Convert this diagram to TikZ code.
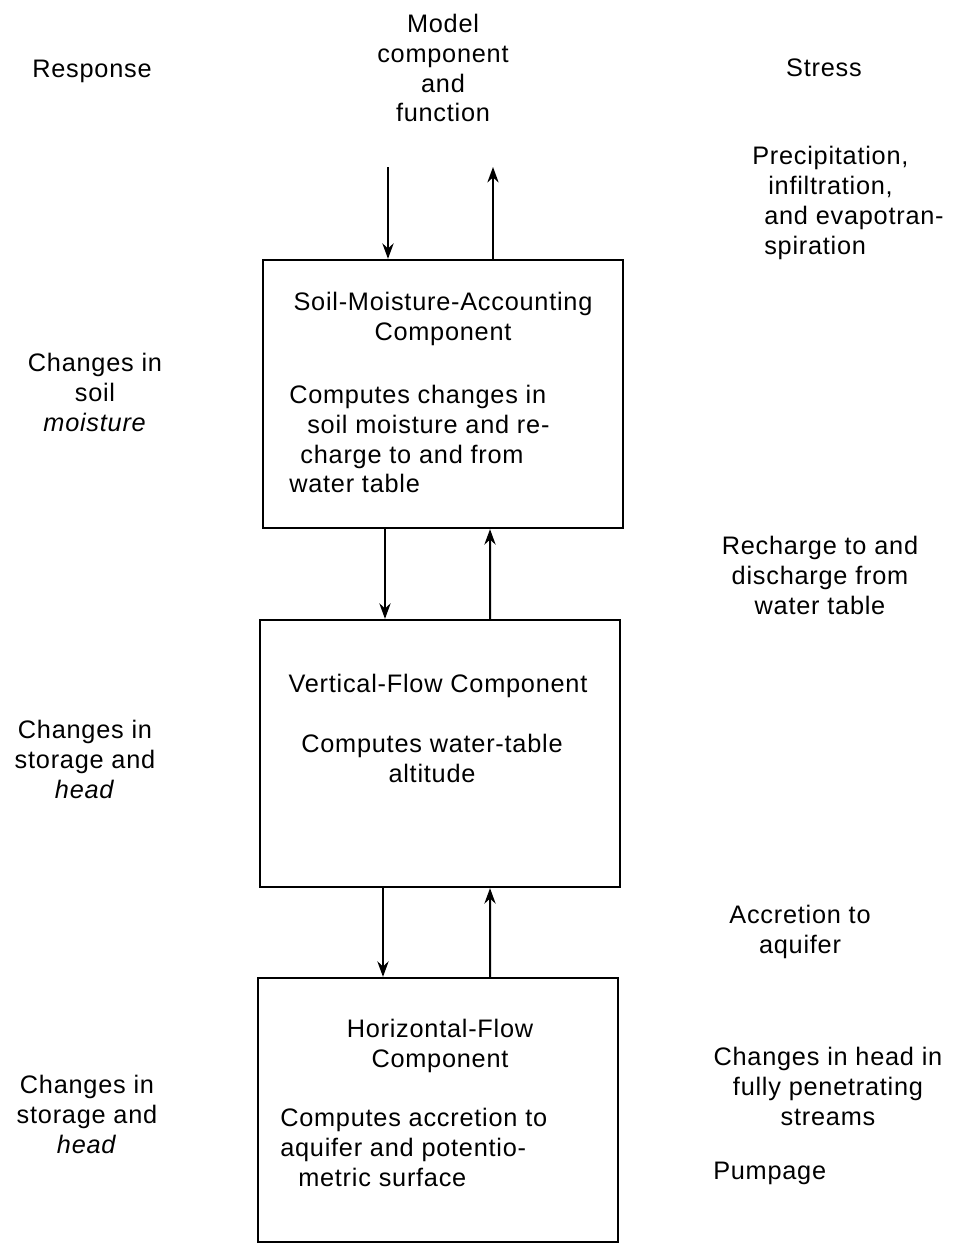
\documentclass[tikz,border=0pt]{standalone}
\usepackage{fontspec}
\setmainfont[LetterSpace=3]{Liberation Sans}
\usetikzlibrary{arrows.meta}
\tikzset{
  txt/.style={align=center,inner sep=0pt,font=\fontsize{18}{21.3}\selectfont},
  ltxt/.style={txt,align=left,anchor=west},
  comp/.style={draw,line width=1.6pt,minimum width=9cm,inner sep=0pt},
  flow/.style={line width=1.4pt,-{Stealth[length=11pt,width=8pt]}}
}

\begin{document}
\begin{tikzpicture}[x=0.025cm,y=-0.025cm]
\useasboundingbox (0,0) rectangle (963,1245);

% column heads
\node[txt] (resp) at (92,71) {Response};
\node[txt] (model) at (443,68) {Model\\component\\and\\function};
\node[txt] (stress) at (824,68) {Stress};

% components
\node[comp,minimum height=6.7cm] (soil) at (443,394) {};
\node[comp,minimum height=6.675cm] (vert) at (440,753.5) {};
\node[comp,minimum height=6.6cm] (horiz) at (438,1110) {};

% text in the boxes
\node[txt] (soilname) at (443,319) {Soil-Moisture-Accounting\\Component};
\node[ltxt] (soilfn) at (289,439) {Computes changes in\\\hspace*{0.45cm}soil moisture and re-\\\hspace*{0.28cm}charge to and from\\water table};
\node[txt] (vertname) at (438,686) {Vertical-Flow Component};
\node[txt] (vertfn) at (432,758) {Computes water-table\\altitude};
\node[txt] (horizname) at (440,1046) {Horizontal-Flow\\Component};
\node[ltxt] (horizfn) at (280,1147) {Computes accretion to\\aquifer and potentio-\\\hspace*{0.45cm}metric surface};

% response column
\node[txt] (resp1) at (95,392) {Changes in\\soil\\\textit{moisture}};
\node[txt] (resp2) at (85,759) {Changes in\\storage and\\\textit{head}};
\node[txt] (resp3) at (87,1114) {Changes in\\storage and\\\textit{head}};

% stress column
\node[ltxt] (precip) at (752,203) {Precipitation,\\\hspace*{0.4cm}infiltration,\\\hspace*{0.3cm}and evapotran-\\\hspace*{0.3cm}spiration};
\node[txt] (rech) at (820,575) {Recharge to and\\discharge from\\water table};
\node[txt] (accr) at (800,932) {Accretion to\\aquifer};
\node[txt] (heads) at (828,1086) {Changes in head in\\fully penetrating\\streams};
\node[ltxt] (pump) at (713,1173) {Pumpage};

% connectors
\coordinate (inS) at (388,167);
\coordinate (outS) at (493,167);
\draw[flow] (inS) -- (inS |- soil.north);
\draw[flow] (outS |- soil.north) -- (outS);
\draw[flow] ([xshift=-1.45cm]soil.south) -- ([xshift=-1.375cm]vert.north);
\draw[flow] ([xshift=1.25cm]vert.north) -- ([xshift=1.175cm]soil.south);
\draw[flow] ([xshift=-1.425cm]vert.south) -- ([xshift=-1.375cm]horiz.north);
\draw[flow] ([xshift=1.3cm]horiz.north) -- ([xshift=1.25cm]vert.south);
\end{tikzpicture}
\end{document}
